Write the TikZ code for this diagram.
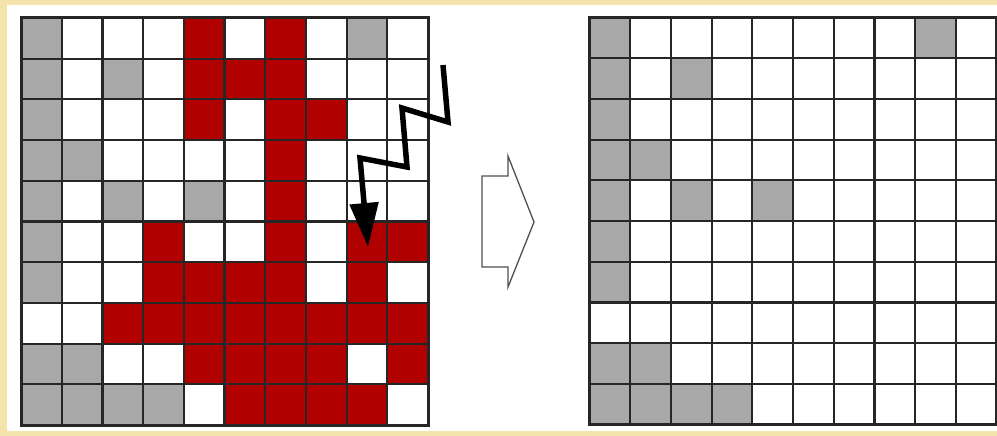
\documentclass[tikz,border=0pt]{standalone}
\usetikzlibrary{arrows.meta}
\definecolor{bgyellow}{HTML}{F4E4AC}
\definecolor{cellgrey}{HTML}{A8A8A8}
\definecolor{cellred}{HTML}{B00000}
\definecolor{gridline}{HTML}{262626}
\definecolor{arrowgrey}{HTML}{505050}
\begin{document}
\begin{tikzpicture}[x=1pt,y=-1pt,
  gridstroke/.style={draw=gridline, line width=2.2pt},
  greycell/.style={fill=cellgrey},
  redcell/.style={fill=cellred},
  zigzag/.style={line width=5.5pt, line join=miter, miter limit=20, -{Triangle[width=28pt,length=44pt]}},
  blockarrow/.style={draw=arrowgrey, line width=1.3pt, fill=white}]
\def\cs{40.7}
\useasboundingbox (0,0) rectangle (997,436);
\fill[bgyellow] (0,0) rectangle (997,436);
\fill[white] (7,5) rectangle (997,431);
% ---------- left grid ----------
\def\xo{21}\def\yo{18}
\foreach \i/\j in {0/0,8/0,0/1,2/1,0/2,0/3,1/3,0/4,2/4,4/4,0/5,0/6,0/8,1/8,0/9,1/9,2/9,3/9}
  \fill[greycell] ({\xo+\i*\cs},{\yo+\j*\cs}) rectangle +(\cs,\cs);
\foreach \i/\j in {4/0,6/0, 4/1,5/1,6/1, 4/2,6/2,7/2, 6/3, 6/4,
  3/5,6/5,8/5,9/5, 3/6,4/6,5/6,6/6,8/6,
  2/7,3/7,4/7,5/7,6/7,7/7,8/7,9/7,
  4/8,5/8,6/8,7/8,9/8, 5/9,6/9,7/9,8/9}
  \fill[redcell] ({\xo+\i*\cs},{\yo+\j*\cs}) rectangle +(\cs,\cs);
\foreach \k in {0,...,10}{
  \draw[gridstroke] ({\xo+\k*\cs},\yo) -- ({\xo+\k*\cs},{\yo+10*\cs});
  \draw[gridstroke] (\xo,{\yo+\k*\cs}) -- ({\xo+10*\cs},{\yo+\k*\cs});
}
\draw[gridstroke, line width=3pt] (\xo,\yo) rectangle ({\xo+10*\cs},{\yo+10*\cs});
% ---------- right grid ----------
\def\xo{589.5}\def\yo{17.5}
\foreach \i/\j in {0/0,8/0,0/1,2/1,0/2,0/3,1/3,0/4,2/4,4/4,0/5,0/6,0/8,1/8,0/9,1/9,2/9,3/9}
  \fill[greycell] ({\xo+\i*\cs},{\yo+\j*\cs}) rectangle +(\cs,\cs);
\foreach \k in {0,...,10}{
  \draw[gridstroke] ({\xo+\k*\cs},\yo) -- ({\xo+\k*\cs},{\yo+10*\cs});
  \draw[gridstroke] (\xo,{\yo+\k*\cs}) -- ({\xo+10*\cs},{\yo+\k*\cs});
}
\draw[gridstroke, line width=3pt] (\xo,\yo) rectangle ({\xo+10*\cs},{\yo+10*\cs});
% ---------- lightning arrow ----------
\draw[zigzag] (443,65) -- (448,122) -- (402,108) -- (407,167) -- (360,158) -- (368,247);
% ---------- block arrow ----------
\draw[blockarrow] (482,176) -- (508,176) -- (508,156) -- (534,222) -- (508,287) -- (508,267) -- (482,267) -- cycle;
\end{tikzpicture}
\end{document}
